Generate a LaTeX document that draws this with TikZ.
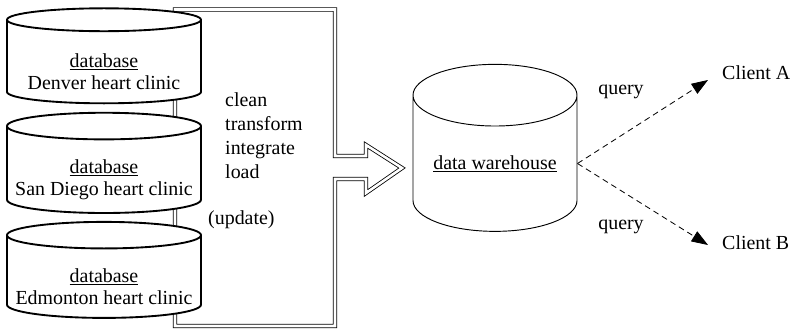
\documentclass[tikz,border=0pt]{standalone}
\usepackage{fontspec}
\setmainfont{Liberation Serif}
\usetikzlibrary{arrows.meta,shapes.geometric}

\newcommand{\dblift}{\rule{0pt}{28pt}}

\begin{document}
\begin{tikzpicture}[
  x=0.03cm, y=-0.03cm,
  >={Triangle[length=14pt, width=10pt]},
  every node/.style={font=\fontsize{17}{20.5}\selectfont},
  source/.style={cylinder, shape border rotate=90, draw=black, fill=white, line width=1.6pt, aspect=0.15, minimum width=5.82cm, minimum height=2.85cm, inner sep=0pt, align=center, font=\fontsize{17}{19}\selectfont},
  store/.style={cylinder, shape border rotate=90, draw=black, fill=white, line width=0.8pt, aspect=0.5, minimum width=4.92cm, minimum height=5.01cm, inner sep=0pt},
  flow/.style={double, double distance=2.2pt, line width=0.7pt, line join=miter},
  query/.style={->, dash pattern=on 5pt off 3.5pt, line width=0.7pt},
  note/.style={inner sep=0pt, align=left},
]
\useasboundingbox (0,0) rectangle (791,331);

% ---- ETL arrow, drawn first so the databases cover its left edge ----
\draw[flow] (175,9.5) -- (335,9.5) -- (335,156) -- (366,156) -- (366,145)
  -- (402,168) -- (366,193) -- (366,179) -- (335,179) -- (335,326) -- (175,326) -- cycle;

% ---- source databases ----
\node[source] (denver)   at (104,62)  {\dblift\underline{database}\\Denver heart clinic};
\node[source] (sandiego) at (104,170) {\dblift\underline{database}\\San Diego heart clinic};
\node[source] (edmonton) at (104,277) {\dblift\underline{database}\\Edmonton heart clinic};

% ---- warehouse ----
\node[store] (wh) at (495,163.5) {\underline{data warehouse}};

% ---- ETL steps ----
\node[note, anchor=west] (steps)  at (225,136) {clean\\transform\\integrate\\load};
\node[note, anchor=west] (update) at (208,220) {(update)};

% ---- clients ----
\coordinate (tA) at (708,80);
\coordinate (tB) at (708,245);
\node[note, anchor=west] (clientA) at (722,73)  {Client A};
\node[note, anchor=west] (clientB) at (722,243) {Client B};
\node[note] (qA) at (621,92)  {query};
\node[note] (qB) at (621,227) {query};

\draw[query] (wh.east) -- (tA);
\draw[query] (wh.east) -- (tB);

\end{tikzpicture}
\end{document}
